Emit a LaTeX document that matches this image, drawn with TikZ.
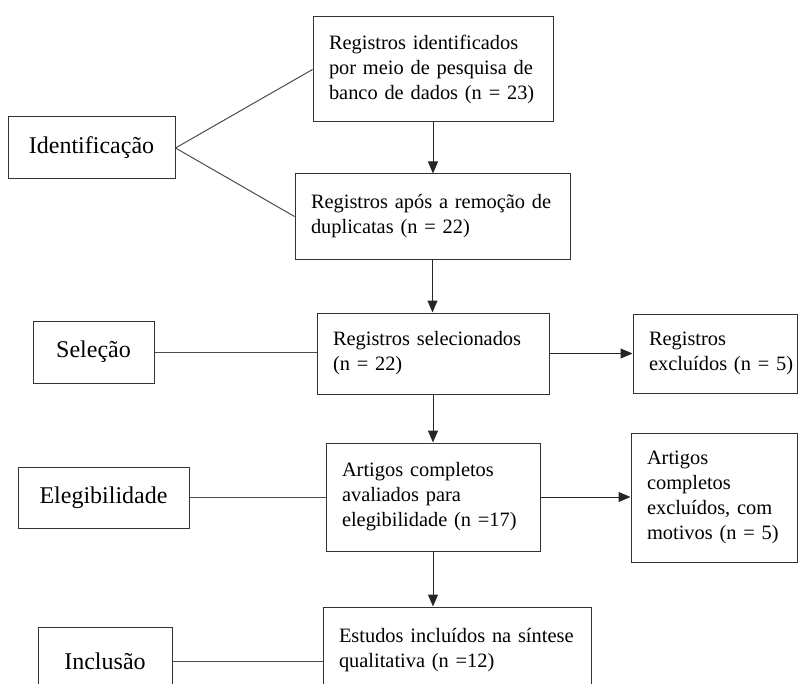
\documentclass[tikz,border=0pt]{standalone}
\usepackage{fontspec}
\setmainfont{Liberation Serif}
\usetikzlibrary{arrows.meta}
\tikzstyle{stagebox}=[rectangle,draw=black!80,line width=0.75pt,fill=white,inner sep=0pt,font=\fontsize{18}{21}\selectfont]
\tikzstyle{recordbox}=[rectangle,draw=black!80,line width=0.75pt,fill=white,align=left,inner xsep=12pt,inner ysep=0pt,font=\fontsize{15.3}{18.75}\selectfont]
\tikzstyle{flow} = [draw,line width=0.75pt,black!85,-{Triangle[length=9pt,width=7.5pt]}]
\tikzstyle{link} = [draw,line width=0.75pt,black!70]

\begin{document}
\begin{tikzpicture}[x=0.75pt,y=-0.75pt]
    \useasboundingbox (0,0) rectangle (798,684);
    % First we draw the stage labels on the left
    \foreach \pos/\name/\w/\h/\label in {{(91.5,148)/ident/125.25pt/46.5pt/Identificação}, {(93.5,352)/select/90.75pt/46.5pt/Seleção}, {(103.5,497.5)/elig/128.25pt/45.75pt/Elegibilidade}, {(105,661)/incstage/100.5pt/51pt/Inclusão}}
        \node[stagebox, minimum width=\w, minimum height=\h] (\name) at \pos {\label};

    % Then the record boxes of the flow
    \foreach \pos/\name/\w/\tw/\h/\txt in {{(433,69.5)/regid/180pt/156pt/78.75pt/{Registros identificados\\por meio de pesquisa de\\banco de dados (n = 23)}}, {(432.5,216.5)/dedup/206.25pt/182.25pt/63.75pt/{Registros após a remoção de\\duplicatas (n = 22)}}, {(433,353.5)/screen/174pt/150pt/60.75pt/{Registros selecionados\\(n = 22)}}, {(715,353.5)/screenex/123pt/99pt/59.25pt/{Registros\\excluídos~(n~=~5)}}, {(433,497)/full/160.5pt/136.5pt/81pt/{Artigos completos\\avaliados para\\elegibilidade (n =17)}}, {(714,497.5)/fullex/124.5pt/100.5pt/96.75pt/{Artigos\\completos\\excluídos, com\\motivos (n = 5)}}, {(457,650)/incl/201pt/177pt/64.5pt/{Estudos incluídos na síntese\\qualitativa (n =12)}}}
        \node[recordbox, minimum width=\w, minimum height=\h, text width=\tw] (\name) at \pos {\txt};

    % Connect the boxes with arrows
    \foreach \source/\dest in {regid/dedup, dedup/screen, screen/full, full/incl}
        \path[flow] (\source.south) -- (\source.south |- \dest.north);
    \foreach \source/\dest in {screen/screenex, full/fullex}
        \path[flow] (\source.east) -- (\source.east -| \dest.west);

    % Lines from the stage labels
    \path[link] (ident.east) -- (regid.west);
    \path[link] (ident.east) -- (dedup.west);
    \foreach \source/\dest in {select/screen, elig/full, incstage/incl}
        \path[link] (\source.east) -- (\source.east -| \dest.west);
\end{tikzpicture}
\end{document}
